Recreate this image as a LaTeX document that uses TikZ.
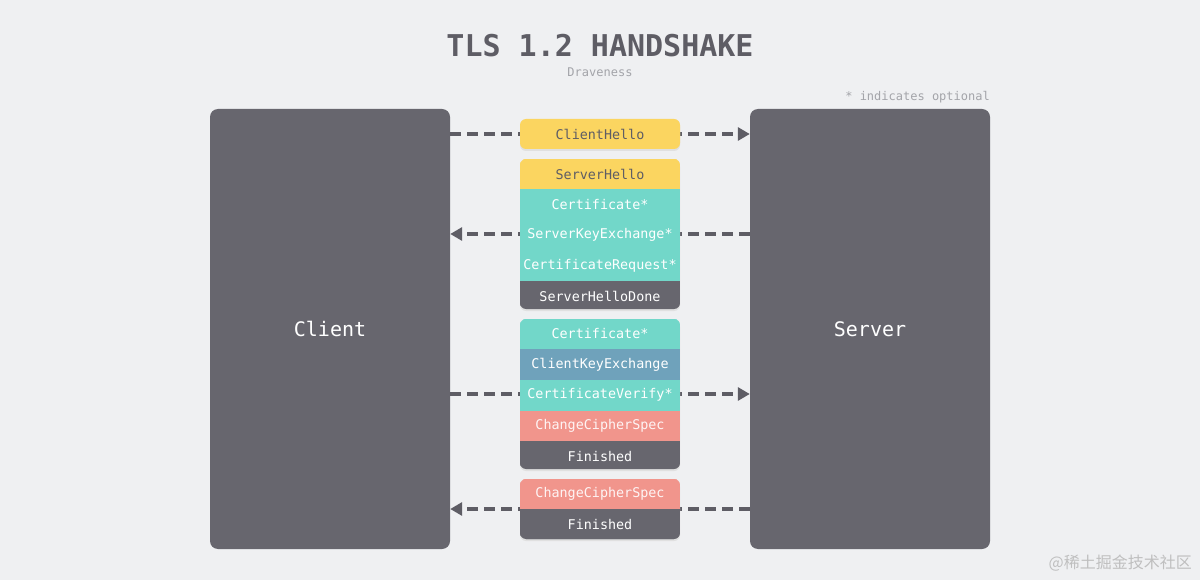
\documentclass[tikz,border=0pt]{standalone}
\usepackage{fontspec}
\setmonofont{DejaVu Sans Mono}
\newfontfamily\cjk{Noto Sans CJK SC}
\usetikzlibrary{positioning,arrows.meta}

\definecolor{bg}{HTML}{EFF0F2}
\definecolor{slate}{HTML}{67666E}
\definecolor{ink}{HTML}{5E5D65}
\definecolor{hello}{HTML}{FBD560}
\definecolor{mint}{HTML}{72D7C9}
\definecolor{kex}{HTML}{6FA2BB}
\definecolor{ccs}{HTML}{F1958C}
\definecolor{note}{HTML}{A3A4A9}

\begin{document}
\begin{tikzpicture}[x=1pt,y=-1pt,
    peer/.style={rectangle,rounded corners=8pt,fill=slate,minimum width=240pt,minimum height=440pt,
                 text=white,font=\ttfamily\fontsize{20}{20}\selectfont},
    msg/.style={rectangle,minimum width=160pt,minimum height=30pt,inner sep=0pt,
                text=white,font=\ttfamily\fontsize{13.4}{13.4}\selectfont},
    row/.style={msg,fill=#1,draw=#1,line width=0.6pt},
    shade/.style={fill=black!12,rounded corners=6pt},
    flow/.style={ink,line width=4pt,dash pattern=on 11pt off 6pt,
                 -{Triangle[length=12pt,width=13pt]}}]
                    \fill[bg] (0,0) rectangle (1200,580);
                    \node[font=\ttfamily\bfseries\fontsize{30}{30}\selectfont,text=ink] (title) at (600,46) {TLS 1.2 HANDSHAKE};
                    \node[font=\ttfamily\fontsize{12}{12}\selectfont,text=note] (author) at (600,72) {Draveness};
                    \node[font=\ttfamily\fontsize{12}{12}\selectfont,text=note,anchor=east,inner sep=0pt] (legend) at (990,97) {* indicates optional};
                    \node[peer] (client) at (330,329) {Client};
                    \node[peer] (server) at (870,329) {Server};
                    \node[font=\cjk\fontsize{16}{16}\selectfont,text=black!25,anchor=east,inner sep=0pt] (mark) at (1192,563) {@稀土掘金技术社区};
                    % flows, drawn first so the messages sit on top
                    \coordinate (m1) at (600,134);
                    \coordinate (m2) at (600,234);
                    \coordinate (m3) at (600,394);
                    \coordinate (m4) at (600,509);
                    \draw[flow] (client.east |- m1) -- (server.west |- m1);
                    \draw[flow] (server.west |- m2) -- (client.east |- m2);
                    \draw[flow] (client.east |- m3) -- (server.west |- m3);
                    \draw[flow] (server.west |- m4) -- (client.east |- m4);
                    % shadows
                    \fill[shade] (520,121) rectangle (680,151);
                    \fill[shade] (520,161) rectangle (680,311);
                    \fill[shade] (520,321) rectangle (680,471);
                    \fill[shade] (520,481) rectangle (680,541);
                    % ClientHello
                    \node[msg,fill=hello,text=ink,rounded corners=6pt] (chello) at (m1) {ClientHello};
                    % ServerHello ... ServerHelloDone
                    \begin{scope}
                    \clip[rounded corners=6pt] (520,159) rectangle (680,309);
                    \node[row=hello,text=ink] (shello) at (600,174) {ServerHello};
                    \node[row=mint,below=0pt of shello] (scert) {Certificate*};
                    \node[row=mint,below=0pt of scert] (skex) {ServerKeyExchange*};
                    \node[row=mint,below=0pt of skex] (creq) {CertificateRequest*};
                    \node[row=slate,below=0pt of creq] (sdone) {ServerHelloDone};
                    \end{scope}
                    % Certificate ... Finished
                    \begin{scope}
                    \clip[rounded corners=6pt] (520,319) rectangle (680,469);
                    \node[row=mint] (ccert) at (600,334) {Certificate*};
                    \node[row=kex,below=0pt of ccert] (ckex) {ClientKeyExchange};
                    \node[row=mint,below=0pt of ckex] (cver) {CertificateVerify*};
                    \node[row=ccs,text=white!90!ccs,below=0pt of cver] (cccs) {ChangeCipherSpec};
                    \node[row=slate,below=0pt of cccs] (cfin) {Finished};
                    \end{scope}
                    % ChangeCipherSpec, Finished
                    \begin{scope}
                    \clip[rounded corners=6pt] (520,479) rectangle (680,539);
                    \node[row=ccs,text=white!90!ccs] (sccs) at (600,494) {ChangeCipherSpec};
                    \node[row=slate,below=0pt of sccs] (sfin) {Finished};
                    \end{scope}
                \end{tikzpicture}
\end{document}
